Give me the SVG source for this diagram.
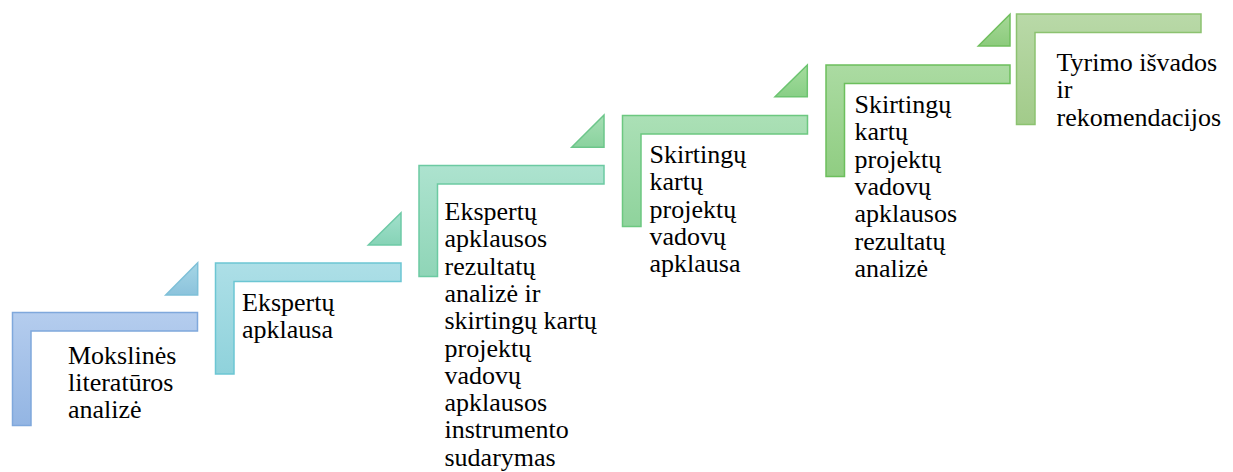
<svg xmlns="http://www.w3.org/2000/svg" width="1233" height="472" viewBox="0 0 1233 472">
<style>
.s{stroke-width:1.5}
</style>
<defs>
<linearGradient id="g1" x1="0" y1="0" x2="0" y2="1"><stop offset="0" stop-color="#b5cdee"/><stop offset="1" stop-color="#93b5e3"/></linearGradient>
<linearGradient id="g2" x1="0" y1="0" x2="0" y2="1"><stop offset="0" stop-color="#addfe7"/><stop offset="1" stop-color="#8fd2db"/></linearGradient>
<linearGradient id="g3" x1="0" y1="0" x2="0" y2="1"><stop offset="0" stop-color="#ade3cf"/><stop offset="1" stop-color="#8fd5b7"/></linearGradient>
<linearGradient id="g4" x1="0" y1="0" x2="0" y2="1"><stop offset="0" stop-color="#abe0b6"/><stop offset="1" stop-color="#8fd39c"/></linearGradient>
<linearGradient id="g5" x1="0" y1="0" x2="0" y2="1"><stop offset="0" stop-color="#abdba2"/><stop offset="1" stop-color="#90cd82"/></linearGradient>
<linearGradient id="g6" x1="0" y1="0" x2="0" y2="1"><stop offset="0" stop-color="#b9d9a8"/><stop offset="1" stop-color="#a2cb8a"/></linearGradient>
<linearGradient id="t1" x1="0" y1="0" x2="0" y2="1"><stop offset="0" stop-color="#a6d6e6"/><stop offset="1" stop-color="#8cc3dc"/></linearGradient>
<linearGradient id="t2" x1="0" y1="0" x2="0" y2="1"><stop offset="0" stop-color="#a2e0cc"/><stop offset="1" stop-color="#86d3b6"/></linearGradient>
<linearGradient id="t3" x1="0" y1="0" x2="0" y2="1"><stop offset="0" stop-color="#a6dfb4"/><stop offset="1" stop-color="#8ad29e"/></linearGradient>
<linearGradient id="t4" x1="0" y1="0" x2="0" y2="1"><stop offset="0" stop-color="#a5dc9e"/><stop offset="1" stop-color="#88cf86"/></linearGradient>
<linearGradient id="t5" x1="0" y1="0" x2="0" y2="1"><stop offset="0" stop-color="#a6d898"/><stop offset="1" stop-color="#8ccb7c"/></linearGradient>
</defs>
<g id="connectors">
<path class="s" d="M165.7,295 L197.7,262.7 L197.7,295 Z" fill="url(#t1)" stroke="#7ec0d8"/>
<path class="s" d="M368.3,245 L401,212.7 L401,245 Z" fill="url(#t2)" stroke="#6ecaa6"/>
<path class="s" d="M571.7,147.3 L604,115 L604,147.3 Z" fill="url(#t3)" stroke="#6cc68a"/>
<path class="s" d="M775,96.7 L807.3,65 L807.3,96.7 Z" fill="url(#t4)" stroke="#6cc470"/>
<path class="s" d="M978.3,46 L1010,14.3 L1010,46 Z" fill="url(#t5)" stroke="#70bf5e"/>
</g>
<g font-family="'Liberation Serif', 'Times New Roman', Tinos, 'DejaVu Serif', serif" font-size="26" fill="#000">
<g id="step1">
<path class="s" d="M12.5,312.5 H197.5 V331 H31 V425.5 H12.5 Z" fill="url(#g1)" stroke="#7fa8dc"/>
<text x="68" y="364">Mokslinės</text>
<text x="68" y="391">literatūros</text>
<text x="68" y="418">analizė</text>
</g>
<g id="step2">
<path class="s" d="M215.5,263 H401 V281.5 H234 V374 H215.5 Z" fill="url(#g2)" stroke="#6cc6d3"/>
<text x="242" y="311">Ekspertų</text>
<text x="242" y="338">apklausa</text>
</g>
<g id="step3">
<path class="s" d="M419,165.5 H604 V184 H437.5 V276.5 H419 Z" fill="url(#g3)" stroke="#6ccaa2"/>
<text x="444.5" y="220">Ekspertų</text>
<text x="444.5" y="247.3">apklausos</text>
<text x="444.5" y="274.6">rezultatų</text>
<text x="444.5" y="301.9">analizė ir</text>
<text x="444.5" y="329.2">skirtingų kartų</text>
<text x="444.5" y="356.5">projektų</text>
<text x="444.5" y="383.8">vadovų</text>
<text x="444.5" y="411.1">apklausos</text>
<text x="444.5" y="438.4">instrumento</text>
<text x="444.5" y="465.7">sudarymas</text>
</g>
<g id="step4">
<path class="s" d="M622.5,115.5 H807.5 V134 H641 V226.5 H622.5 Z" fill="url(#g4)" stroke="#6cc880"/>
<text x="649.5" y="163">Skirtingų</text>
<text x="649.5" y="190.3">kartų</text>
<text x="649.5" y="217.6">projektų</text>
<text x="649.5" y="244.9">vadovų</text>
<text x="649.5" y="272.2">apklausa</text>
</g>
<g id="step5">
<path class="s" d="M826,65 H1010 V83.5 H844.5 V176.5 H826 Z" fill="url(#g5)" stroke="#6cbf5c"/>
<text x="854.5" y="113">Skirtingų</text>
<text x="854.5" y="140.3">kartų</text>
<text x="854.5" y="167.6">projektų</text>
<text x="854.5" y="194.9">vadovų</text>
<text x="854.5" y="222.2">apklausos</text>
<text x="854.5" y="249.5">rezultatų</text>
<text x="854.5" y="276.8">analizė</text>
</g>
<g id="step6">
<path class="s" d="M1016.5,14 H1201 V32.5 H1035 V124.5 H1016.5 Z" fill="url(#g6)" stroke="#8cc270"/>
<text x="1056.5" y="71">Tyrimo išvados</text>
<text x="1056.5" y="98.3">ir</text>
<text x="1056.5" y="125.6">rekomendacijos</text>
</g>
</g>
</svg>
